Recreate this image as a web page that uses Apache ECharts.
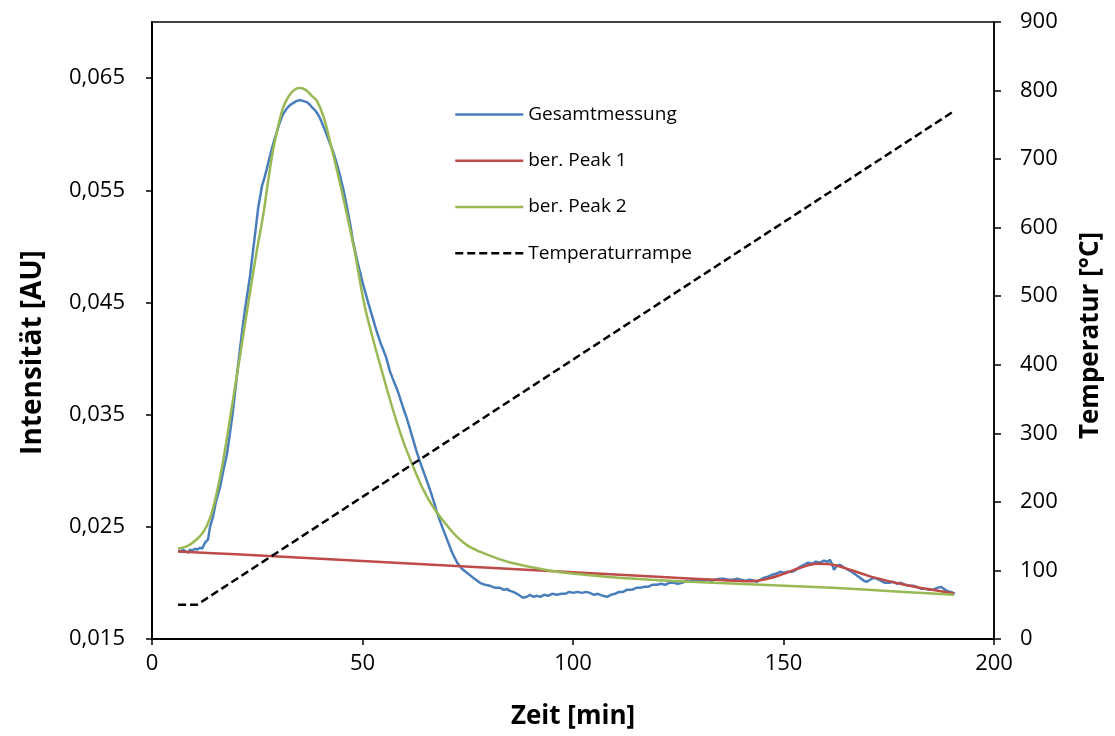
<!DOCTYPE html>
<html>
<head>
<meta charset="utf-8">
<script src="https://cdn.jsdelivr.net/npm/echarts@6/dist/echarts.min.js"></script>
<style>
  html, body { margin: 0; padding: 0; background: #ffffff; }
  #chart { width: 1115px; height: 736px; }
</style>
</head>
<body>
<div id="chart"></div>
<script>
// Time axis ticks [min]
const zeitTicks = [0, 50, 100, 150, 200];
// Left axis tick values (intensity, AU)
const intensitaetTicks = [0.015, 0.025, 0.035, 0.045, 0.055, 0.065];
// Right axis tick values (temperature, °C)
const temperaturTicks = [0, 100, 200, 300, 400, 500, 600, 700, 800, 900];

// Measured signal: [time min, intensity AU]
const gesamtmessung = [
  [6.2,0.02287],[6.7,0.02278],[7.4,0.02296],[8.1,0.02278],[8.6,0.02269],[9.0,0.02296],[9.5,0.02287],
  [10.2,0.02305],[10.7,0.02296],[11.4,0.02314],[11.9,0.02305],[12.6,0.02359],[13.3,0.02386],[13.8,0.02502],
  [14.5,0.02591],[15.2,0.02725],[16.2,0.02860],[17.1,0.03030],[17.8,0.03146],[18.5,0.03330],[19.2,0.03522],
  [20.0,0.03790],[20.9,0.04085],[21.5,0.04270],[22.1,0.04443],[22.7,0.04590],[23.3,0.04738],[23.9,0.04930],
  [24.5,0.05114],[25.2,0.05337],[26.1,0.05534],[26.7,0.05610],[27.3,0.05695],[27.9,0.05790],[28.5,0.05874],
  [29.1,0.05955],[29.7,0.06026],[30.3,0.06100],[30.9,0.06160],[31.5,0.06200],[32.1,0.06232],[32.8,0.06260],
  [33.5,0.06277],[34.3,0.06295],[35.2,0.06304],[36.0,0.06295],[36.8,0.06286],[37.5,0.06262],[38.2,0.06232],
  [38.8,0.06210],[39.4,0.06178],[40.0,0.06135],[40.6,0.06080],[41.2,0.06025],[41.8,0.05964],[42.4,0.05905],
  [43.0,0.05847],[43.6,0.05775],[44.2,0.05695],[44.8,0.05610],[45.4,0.05516],[46.0,0.05410],[46.6,0.05293],
  [47.2,0.05170],[47.7,0.05051],[48.3,0.04950],[48.9,0.04846],[49.5,0.04760],[50.1,0.04667],[50.6,0.04600],
  [51.1,0.04532],[51.8,0.04440],[52.5,0.04353],[53.3,0.04250],[54.2,0.04148],[54.9,0.04080],[55.6,0.04013],
  [56.5,0.03888],[57.3,0.03810],[58.2,0.03727],[58.9,0.03650],[59.6,0.03566],[60.5,0.03470],[61.3,0.03370],
  [62.0,0.03280],[62.7,0.03191],[63.7,0.03074],[64.9,0.02949],[66.0,0.02833],[66.9,0.02730],[67.7,0.02627],
  [68.9,0.02502],[70.1,0.02386],[71.3,0.02269],[72.5,0.02180],[73.6,0.02126],[74.8,0.02090],[76.3,0.02046],
  [77.9,0.02001],[79.1,0.01983],[80.3,0.01974],[81.5,0.01956],[82.7,0.01956],[83.6,0.01938],[84.3,0.01947],
  [85.0,0.01929],[85.8,0.01920],[86.7,0.01903],[87.4,0.01885],[88.1,0.01867],[89.1,0.01876],[89.8,0.01894],
  [90.5,0.01876],[91.5,0.01885],[92.2,0.01876],[93.1,0.01894],[94.1,0.01885],[95.0,0.01903],[96.2,0.01894],
  [97.2,0.01903],[98.1,0.01903],[99.1,0.01920],[100.0,0.01911],[101.0,0.01920],[102.1,0.01911],[103.1,0.01920],
  [104.0,0.01911],[105.0,0.01894],[105.9,0.01903],[107.1,0.01885],[108.1,0.01876],[109.0,0.01894],[110.0,0.01903],
  [110.9,0.01920],[111.9,0.01920],[112.8,0.01938],[114.0,0.01938],[115.0,0.01956],[115.9,0.01956],[116.9,0.01965],
  [117.8,0.01965],[118.8,0.01983],[120.0,0.01983],[120.9,0.01992],[121.9,0.01983],[122.8,0.02001],[123.8,0.02001],
  [124.9,0.01992],[125.9,0.02001],[126.8,0.02019],[127.8,0.02010],[128.7,0.02028],[129.7,0.02019],[130.9,0.02019],
  [131.8,0.02028],[132.8,0.02019],[133.7,0.02028],[134.9,0.02037],[135.9,0.02037],[136.8,0.02028],[138.0,0.02028],
  [139.0,0.02037],[139.9,0.02028],[140.9,0.02019],[142.0,0.02028],[143.0,0.02019],[143.7,0.02010],[144.4,0.02028],
  [145.4,0.02046],[146.3,0.02055],[147.3,0.02072],[148.2,0.02081],[149.2,0.02099],[150.1,0.02090],[151.1,0.02099],
  [152.0,0.02099],[153.0,0.02117],[153.9,0.02144],[154.9,0.02162],[155.8,0.02180],[156.8,0.02171],[157.7,0.02189],
  [158.7,0.02180],[159.6,0.02198],[160.6,0.02189],[161.0,0.02207],[161.5,0.02171],[162.0,0.02117],[162.7,0.02153],
  [163.4,0.02162],[164.1,0.02144],[164.9,0.02126],[165.8,0.02108],[166.5,0.02090],[167.5,0.02064],[168.2,0.02046],
  [169.1,0.02019],[169.8,0.02010],[170.6,0.02028],[171.5,0.02046],[172.2,0.02037],[173.2,0.02019],[174.1,0.02001],
  [175.1,0.02001],[176.0,0.02010],[177.0,0.01992],[177.9,0.02001],[178.9,0.01983],[179.8,0.01974],[180.8,0.01974],
  [181.7,0.01965],[182.7,0.01947],[183.6,0.01947],[184.6,0.01938],[185.5,0.01938],[186.5,0.01956],[187.4,0.01965],
  [188.1,0.01947],[188.8,0.01929],[189.8,0.01920],[190.7,0.01903]
];

// Fitted peak 1 (baseline with small high-temperature peak)
const berPeak1 = [
  [6.2,0.02280],[20,0.02255],[40,0.02215],[60,0.02175],[80,0.02135],[100,0.02095],[120,0.02055],
  [135,0.02025],[142,0.02015],[146,0.02035],[150,0.02080],[154,0.02135],[158,0.02170],[162,0.02160],
  [166,0.02115],[170,0.02065],[174,0.02025],[178,0.01990],[182,0.01960],[186,0.01935],[190.5,0.01905]
];

// Fitted peak 2 (main low-temperature peak)
const berPeak2 = [
  [6.2,0.02305],[8.5,0.02330],[10.5,0.02385],[12.3,0.02460],[13.8,0.02580],[15.0,0.02740],[16.2,0.02950],
  [17.4,0.03200],[18.5,0.03459],[19.7,0.03740],[20.9,0.04022],[22.1,0.04310],[23.3,0.04595],[24.8,0.04940],
  [26.4,0.05275],[27.5,0.05560],[28.7,0.05847],[29.9,0.06060],[31.1,0.06232],[32.5,0.06340],[34.0,0.06400],
  [35.2,0.06411],[36.5,0.06395],[38.0,0.06340],[39.2,0.06295],[40.8,0.06150],[42.5,0.05901],[45.1,0.05490],
  [48.0,0.04980],[50.4,0.04488],[52.3,0.04201],[54.8,0.03862],[57.2,0.03548],[59.6,0.03271],[62.0,0.03039],
  [64.3,0.02842],[66.7,0.02681],[69.5,0.02538],[72.4,0.02412],[75.0,0.02332],[77.9,0.02278],[81.5,0.02225],
  [85.3,0.02180],[91.0,0.02135],[98.1,0.02090],[110.8,0.02046],[127.7,0.02010],[144.7,0.01983],[161.6,0.01956],
  [178.6,0.01920],[190.5,0.01894]
];

// Temperature programme: hold, then linear ramp [time min, °C]
const temperaturrampe = [[6.2,50],[10.7,50],[190.5,770]];

const FONT = '"Open Sans", "Noto Sans", sans-serif';
const BLACK = '#000000';

const chart = echarts.init(document.getElementById('chart'), null, { renderer: 'canvas' });

const fmtIntensity = v => v.toFixed(3).replace('.', ',');

chart.setOption({
  animation: false,
  backgroundColor: '#ffffff',
  textStyle: { fontFamily: FONT, color: BLACK },
  grid: {
    left: 152, right: 121, top: 22, bottom: 97,
    show: true, borderColor: BLACK, borderWidth: 1.5, backgroundColor: 'transparent'
  },
  legend: {
    orient: 'vertical',
    left: 454, top: 105, padding: 0,
    itemWidth: 68, itemHeight: 24, itemGap: 27,
    itemStyle: { opacity: 0 },
    lineStyle: { width: 2.5 },
    textStyle: { fontFamily: FONT, fontSize: 19, color: BLACK },
    data: ['Gesamtmessung', 'ber. Peak 1', 'ber. Peak 2', 'Temperaturrampe']
  },
  xAxis: {
    type: 'value',
    min: zeitTicks[0], max: zeitTicks[zeitTicks.length - 1], interval: 50,
    name: 'Zeit [min]', nameLocation: 'middle', nameGap: 65,
    nameTextStyle: { fontFamily: FONT, fontWeight: 'bold', fontSize: 26, color: BLACK },
    axisLine: { show: true, onZero: false, lineStyle: { color: BLACK, width: 2 } },
    axisTick: { show: true, inside: false, length: 6, lineStyle: { color: BLACK, width: 1.5 } },
    axisLabel: { fontFamily: FONT, fontSize: 22, color: BLACK, margin: 14 },
    splitLine: { show: false }
  },
  yAxis: [
    {
      type: 'value', position: 'left',
      min: 0.015, max: 0.070,
      name: 'Intensität [AU]', nameLocation: 'middle', nameGap: 105,
      nameTextStyle: { fontFamily: FONT, fontWeight: 'bold', fontSize: 28, color: BLACK,
                       padding: [0, 44, 0, 0] },
      axisLine: { show: true, lineStyle: { color: BLACK, width: 2 } },
      axisTick: { show: true, inside: false, length: 6, customValues: intensitaetTicks,
                  lineStyle: { color: BLACK, width: 1.5 } },
      axisLabel: { fontFamily: FONT, fontSize: 22, color: BLACK, margin: 27,
                   customValues: intensitaetTicks, formatter: fmtIntensity },
      splitLine: { show: false }
    },
    {
      type: 'value', position: 'right',
      min: temperaturTicks[0], max: temperaturTicks[temperaturTicks.length - 1], interval: 100,
      name: 'Temperatur [°C]', nameLocation: 'middle', nameGap: 84,
      nameTextStyle: { fontFamily: FONT, fontWeight: 'bold', fontSize: 26, color: BLACK,
                       padding: [0, 10, 0, 0] },
      axisLine: { show: true, lineStyle: { color: BLACK, width: 1.5 } },
      axisTick: { show: true, inside: false, length: 7, lineStyle: { color: BLACK, width: 1.5 } },
      axisLabel: { fontFamily: FONT, fontSize: 22, color: BLACK, margin: 26 },
      splitLine: { show: false }
    }
  ],
  series: [
    {
      name: 'Gesamtmessung', type: 'line', yAxisIndex: 0,
      data: gesamtmessung, symbol: 'none', smooth: false,
      lineStyle: { color: '#4A7EBB', width: 2.5 }, itemStyle: { color: '#4A7EBB' }, z: 2
    },
    {
      name: 'ber. Peak 1', type: 'line', yAxisIndex: 0,
      data: berPeak1, symbol: 'none', smooth: 0.35,
      lineStyle: { color: '#BE4B48', width: 2.5 }, itemStyle: { color: '#BE4B48' }, z: 3
    },
    {
      name: 'ber. Peak 2', type: 'line', yAxisIndex: 0,
      data: berPeak2, symbol: 'none', smooth: 0.35,
      lineStyle: { color: '#98B954', width: 2.5 }, itemStyle: { color: '#98B954' }, z: 4
    },
    {
      name: 'Temperaturrampe', type: 'line', yAxisIndex: 1,
      data: temperaturrampe, symbol: 'none',
      lineStyle: { color: BLACK, width: 2.5, type: [8, 4] }, itemStyle: { color: BLACK }, z: 5
    }
  ]
});
</script>
</body>
</html>
